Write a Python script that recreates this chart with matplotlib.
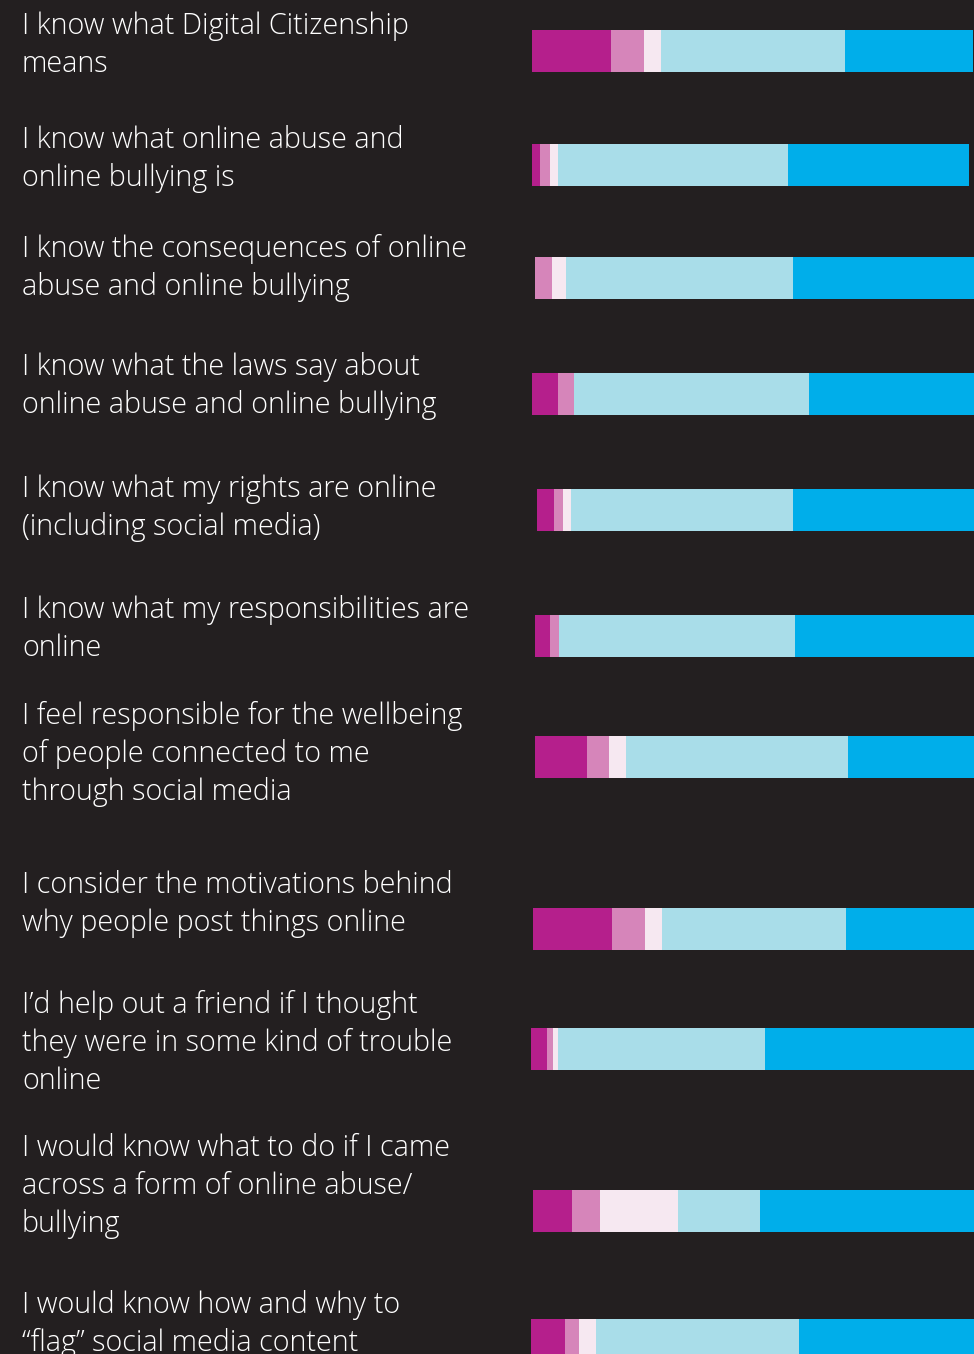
import matplotlib
matplotlib.use("Agg")
import matplotlib.pyplot as plt
from matplotlib.transforms import blended_transform_factory
import numpy as np

# Survey statements (one entry per bar, lines as wrapped in the layout)
statements = [
    ["I know what Digital Citizenship", "means"],
    ["I know what online abuse and", "online bullying is"],
    ["I know the consequences of online", "abuse and online bullying"],
    ["I know what the laws say about", "online abuse and online bullying"],
    ["I know what my rights are online", "(including social media)"],
    ["I know what my responsibilities are", "online"],
    ["I feel responsible for the wellbeing", "of people connected to me", "through social media"],
    ["I consider the motivations behind", "why people post things online"],
    ["I\u2019d help out a friend if I thought", "they were in some kind of trouble", "online"],
    ["I would know what to do if I came", "across a form of online abuse/", "bullying"],
    ["I would know how and why to", "\u201cflag\u201d social media content"],
]

# Response shares (%) from strongly disagree to strongly agree
strongly_disagree = [18.1, 1.8, 0.0, 5.9, 3.9, 3.4, 11.9, 18.1, 3.7, 8.9, 7.8]
disagree          = [7.6, 2.3, 3.9, 3.7, 2.1, 2.1, 5.0, 7.6, 1.4, 6.4, 3.2]
neutral           = [3.9, 1.8, 3.2, 0.0, 1.8, 0.0, 3.9, 3.9, 1.1, 17.8, 3.9]
agree             = [42.1, 52.6, 51.9, 53.8, 50.8, 54.0, 50.8, 42.1, 47.4, 18.8, 46.5]
strongly_agree    = [29.3, 41.5, 41.9, 38.2, 41.9, 41.4, 29.3, 29.7, 48.3, 49.4, 40.5]

series = [strongly_disagree, disagree, neutral, agree, strongly_agree]
colors = ["#b51f8c", "#d685ba", "#f6e8f1", "#a9dde9", "#00aeea"]

# Layout (figure pixel units)
W, H = 974, 1354
bar_top_px = [30, 144, 257, 373, 489, 615, 736, 908, 1028, 1190, 1319]
bar_h_px = 42
row_shift_px = [0, 0, 3, 0, 5, 3, 3, 1, -1, 1, -1]
label_baseline_px = [34, 148, 257, 375, 497, 618, 724, 893, 1013, 1156, 1313]
line_step_px = 38.2
bar_x0_px = 532
px_per_pct = 4.37
bg = "#231f20"

fig = plt.figure(figsize=(W / 100, H / 100), dpi=100, facecolor=bg)
ax = fig.add_axes([0, 0, 1, 1])
ax.set_facecolor(bg)
ax.set_xlim(-bar_x0_px / px_per_pct, (W - bar_x0_px) / px_per_pct)
ax.set_ylim(H, 0)
ax.axis("off")

centers = np.array(bar_top_px) + bar_h_px / 2
left = np.array(row_shift_px) / px_per_pct
for vals, col in zip(series, colors):
    v = np.array(vals)
    ax.barh(centers, v, left=left, height=bar_h_px, color=col, linewidth=0)
    left = left + v

trans = blended_transform_factory(fig.transFigure, ax.transData)
for lines, base in zip(statements, label_baseline_px):
    for i, line in enumerate(lines):
        ax.text(22 / W, base + i * line_step_px, line, transform=trans,
                ha="left", va="baseline", color="white",
                fontsize=20.7, family="Open Sans", fontweight="light")

fig.savefig("out.png", dpi=100, facecolor=bg)
